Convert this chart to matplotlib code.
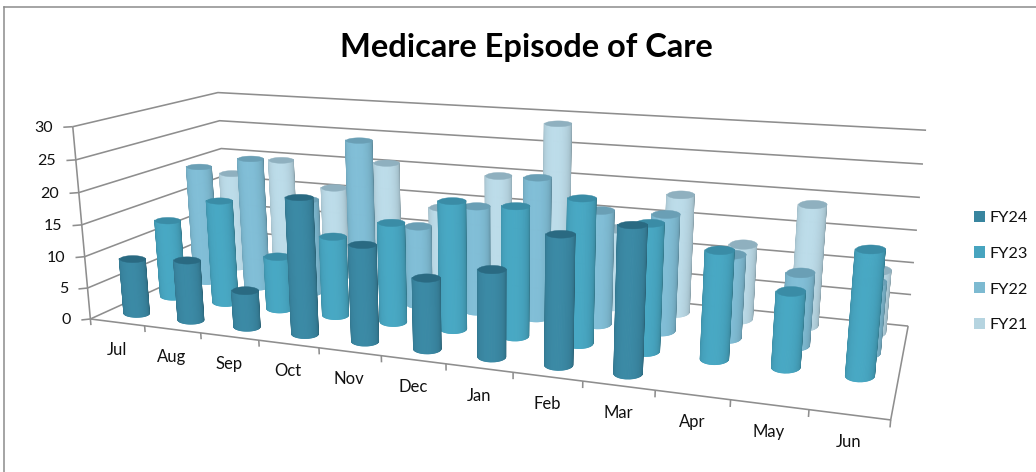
import numpy as np
import matplotlib
matplotlib.use("Agg")
import matplotlib.pyplot as plt
from matplotlib.patches import Patch
from matplotlib.lines import Line2D
from mpl_toolkits.mplot3d.art3d import Poly3DCollection

months = ["Jul", "Aug", "Sep", "Oct", "Nov", "Dec", "Jan", "Feb", "Mar", "Apr", "May", "Jun"]
series_names = ["FY24", "FY23", "FY22", "FY21"]
nan = float("nan")
fy24 = [8.9, 9.6, 5.8, 20.9, 14.7, 10.7, 12.9, 18.8, 20.9, nan, nan, nan]
fy23 = [12.8, 16.8, 8.6, 12.7, 15.7, 19.8, 19.8, 21.7, 18.9, 15.9, 11, 17.8]
fy22 = [19.8, 21.8, 15.7, 26, 12.9, 16.9, 22.1, 17.8, 18, 12.8, 11, 10.6]
fy21 = [16.8, 19.8, 15.7, 20.6, 13.8, 19.8, 28.8, 12.7, 18.9, 11.9, 18.9, 9.7]
series_values = [fy24, fy23, fy22, fy21]
y_ticks = [0, 5, 10, 15, 20, 25, 30]
body_colors = ["#3A87A2", "#47A5C0", "#7FBBD3", "#B9D8E5"]
top_colors = ["#2A6A82", "#3A8CA6", "#6A9FB5", "#8FB0BF"]
legend_colors = ["#38859F", "#47A4BF", "#7DBAD1", "#B5D4E0"]

plt.rcParams["font.family"] = ["Lato", "DejaVu Sans"]
W, H = 1036, 472
fig = plt.figure(figsize=(W / 100, H / 100), dpi=100)
ax = fig.add_axes([0, 0, 1, 1], projection="3d", computed_zorder=False)
ax.apply_aspect = lambda position=None: None
ax.set_proj_type("ortho")
ax.set_xticks([])
ax.set_yticks([])
ax.set_zticks([])
ax.set_axis_off()
ax.patch.set_alpha(0)
ax.viewLim.set_points(np.array([[0.0, float(H)], [float(W), 0.0]]))

# Camera calibration: axis-frame points (category, depth, value) and where they sit on the canvas
front_ticks_px = [90.7, 144.3, 201, 259, 319, 381.7, 446, 513, 583, 655, 730.7, 808.7, 890.7]
anchors = [(i, 0, 0, px, 319 + (420 - 319) * (px - 90.7) / 800.0) for i, px in enumerate(front_ticks_px)]
anchors += [
    (0, 0, 30, 73, 127), (0, 0, 25, 76, 160), (0, 0, 20, 78, 192.7), (0, 0, 15, 81.7, 224),
    (0, 0, 10, 85, 256.7), (0, 0, 5, 87, 288),
    (0, 4, 30, 218, 93), (0, 4, 25, 219.7, 121), (0, 4, 20, 221, 148),
    (12, 4, 30, 926, 130), (12, 4, 25, 923, 164), (12, 4, 20, 920, 197), (12, 4, 15, 917, 230),
    (12, 4, 10, 914, 263), (12, 4, 5, 911, 295), (12, 4, 0, 908, 326),
]
rows = []
for X, Y, Z, u, v in anchors:
    rows.append([X, Y, Z, 1, 0, 0, 0, 0, -u * X, -u * Y, -u * Z, -u])
    rows.append([0, 0, 0, 0, X, Y, Z, 1, -v * X, -v * Y, -v * Z, -v])
P = np.linalg.svd(np.array(rows, float))[2][-1].reshape(3, 4)
if P[2, 3] < 0:
    P = -P
P = P / P[2, 3]
M = np.vstack([P[0], P[1], [0, 0, 0, -1.0], P[2]])
ax.get_proj = lambda: M
ax.M = M


def project(x, y, z):
    p = P @ np.array([x, y, z, 1.0])
    return p[0] / p[2], p[1] / p[2]


def label(px, py, s, **kw):
    fig.text(px / W, 1 - py / H, s, va="center", color="#111111", **kw)


GRID = "#8E8E8E"
LW = 1.15


def line(xs, ys, zs, z=1):
    ax.plot(xs, ys, zs, color=GRID, lw=LW, zorder=z, solid_capstyle="butt")


n = len(months)
for v in y_ticks:
    line([0, 0, n], [0, 4, 4], [v, v, v])
    line([-0.1, 0], [-0.09, 0], [v, v])
    px, py = project(0, 0, v)
    label(px - 19.5, py + 1, str(v), ha="right", fontsize=11.5)
line([0, 0], [0, 0], [0, 30])
line([0, n, n], [0, 0, 4], [0, 0, 0])
for i in range(n + 1):
    line([i, i], [0, 0], [0, -1])
for i, m in enumerate(months):
    px, py = project(i + 0.5, 0, 0)
    label(px - 0.5, py + 27.5, m, ha="center", fontsize=12)


def shade(c, f):
    rgb = np.array(matplotlib.colors.to_rgb(c))
    return tuple(np.clip(rgb * f, 0, 1))


def floor_jacobian(cx, cy):
    e = 0.01
    u0 = np.array(project(cx, cy, 0))
    dx = (np.array(project(cx + e, cy, 0)) - u0) / e
    dy = (np.array(project(cx, cy + e, 0)) - u0) / e
    return np.column_stack([dx, dy])


SEG = 36
phi = np.linspace(0, 2 * np.pi, 2 * SEG + 1)
view = np.deg2rad(100)
bars = []
for s, vals in enumerate(series_values):
    for i, val in enumerate(vals):
        if not np.isnan(val):
            cx, cy = i + 0.5, s + 0.5
            bars.append((P[2] @ [cx, cy, 0, 1], i, cx, cy, val, s))
bars.sort(key=lambda b: -b[0])
for order, (_, i, cx, cy, val, s) in enumerate(bars):
    half_w = (25.5 - 0.6 * s + 0.38 * i) / 2
    half_h = 4.0 + 2.0 * i / 11
    inv = np.linalg.inv(floor_jacobian(cx, cy))
    off = inv @ np.vstack([half_w * np.cos(phi), half_h * np.sin(phi)])
    xs, ys = cx + off[0], cy + off[1]
    verts, cols = [], []
    for k in range(SEG):
        d = np.cos((phi[k] + phi[k + 1]) / 2 - view)
        f = 0.72 + 0.30 * max(d, 0) ** 0.5
        verts.append([(xs[k], ys[k], 0), (xs[k + 1], ys[k + 1], 0), (xs[k + 1], ys[k + 1], val), (xs[k], ys[k], val)])
        cols.append(shade(body_colors[s], f))
    body = Poly3DCollection(verts, facecolors=cols, edgecolors=cols, linewidths=0.7, zorder=10 + 2 * order)
    ax.add_collection3d(body, autolim=False)
    top = Poly3DCollection([list(zip(xs, ys, np.full_like(xs, val)))], facecolors=top_colors[s],
                           edgecolors=top_colors[s], linewidths=0.3, zorder=11 + 2 * order)
    ax.add_collection3d(top, autolim=False)

fig.text(526 / W, 1 - 47 / H, "Medicare Episode of Care", ha="center", va="center",
         fontsize=23.5, fontweight="bold", color="black")
handles = [Patch(facecolor=c, edgecolor="none") for c in legend_colors]
fig.legend(handles, series_names, loc="center left", bbox_to_anchor=(974 / W, 1 - 271.5 / H), frameon=False,
           fontsize=11.7, handlelength=0.68, handleheight=0.68, handletextpad=0.27, labelspacing=1.33,
           labelcolor="#111111", borderpad=0, borderaxespad=0)
for xs_, ys_ in [((3.5, 3.5), (472, 6.5)), ((3.5, 1036), (6.5, 6.5))]:
    fig.add_artist(Line2D([x / W for x in xs_], [1 - y / H for y in ys_], transform=fig.transFigure,
                          color="#8C8C8C", lw=1.1))
fig.savefig("out.png", dpi=100)
